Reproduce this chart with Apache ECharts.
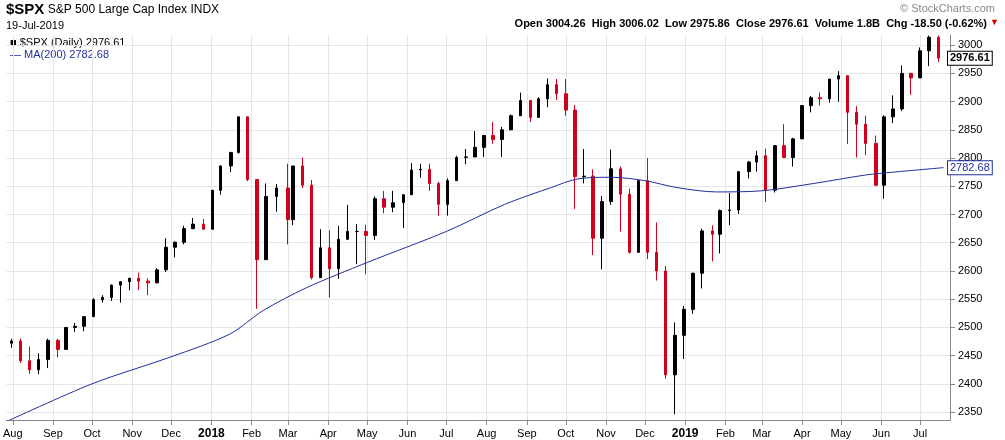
<!DOCTYPE html><html><head><meta charset="utf-8">
<script src="https://cdn.jsdelivr.net/npm/echarts@6/dist/echarts.min.js"></script>
<style>body{margin:0;background:#fff}#c{width:1005px;height:440px}</style></head><body><div id="c"></div>
<script>
// weekly candles: date, open, close, low, high
const weeks=[
['2017-07-31',2472,2476,2464,2480],['2017-08-07',2476,2441,2437,2480],['2017-08-14',2441,2425,2418,2466],['2017-08-21',2425,2443,2417,2454],
['2017-08-28',2443,2477,2428,2480],['2017-09-05',2477,2461,2447,2480],['2017-09-11',2461,2500,2463,2500],['2017-09-18',2500,2502,2492,2508],
['2017-09-25',2502,2519,2493,2520],['2017-10-02',2519,2549,2520,2552],['2017-10-09',2549,2553,2544,2557],['2017-10-16',2553,2575,2547,2576],
['2017-10-23',2575,2581,2544,2582],['2017-10-30',2581,2587,2566,2588],['2017-11-06',2587,2582,2566,2597],['2017-11-13',2582,2579,2557,2587],
['2017-11-20',2579,2602,2578,2605],['2017-11-27',2602,2642,2598,2658],['2017-12-04',2642,2651,2624,2652],['2017-12-11',2651,2675,2647,2680],
['2017-12-18',2675,2683,2674,2694],['2017-12-26',2683,2674,2673,2692],['2018-01-02',2674,2743,2683,2743],['2018-01-08',2743,2786,2735,2787],
['2018-01-16',2786,2810,2775,2810],['2018-01-22',2810,2873,2808,2873],['2018-01-29',2873,2762,2759,2870],['2018-02-05',2762,2620,2533,2763],
['2018-02-12',2620,2732,2622,2755],['2018-02-20',2732,2747,2705,2754],['2018-03-01',2747,2691,2647,2790],['2018-03-05',2691,2786,2681,2786],
['2018-03-12',2786,2752,2747,2801],['2018-03-19',2752,2588,2585,2761],['2018-03-26',2588,2641,2594,2674],['2018-04-02',2641,2604,2553,2672],
['2018-04-09',2604,2656,2586,2680],['2018-04-16',2656,2670,2660,2717],['2018-04-23',2670,2670,2612,2683],['2018-04-30',2670,2663,2594,2682],
['2018-05-07',2663,2728,2655,2732],['2018-05-14',2728,2713,2702,2742],['2018-05-21',2713,2721,2704,2742],['2018-05-29',2721,2735,2676,2736],
['2018-06-04',2735,2779,2741,2791],['2018-06-11',2779,2780,2765,2790],['2018-06-18',2780,2755,2742,2790],['2018-06-25',2755,2718,2698,2758],
['2018-07-02',2718,2760,2698,2764],['2018-07-09',2760,2801,2770,2804],['2018-07-16',2801,2802,2789,2816],['2018-07-23',2802,2819,2803,2848],
['2018-07-30',2819,2840,2802,2841],['2018-08-06',2840,2833,2825,2864],['2018-08-13',2833,2850,2802,2855],['2018-08-20',2850,2875,2853,2877],
['2018-08-27',2875,2902,2877,2916],['2018-09-04',2902,2872,2864,2903],['2018-09-10',2872,2905,2872,2908],['2018-09-17',2905,2930,2890,2941],
['2018-09-24',2930,2914,2903,2940],['2018-10-01',2914,2885,2875,2940],['2018-10-08',2885,2767,2710,2894],['2018-10-15',2767,2768,2755,2816],
['2018-10-22',2768,2658,2628,2780],['2018-10-29',2658,2723,2603,2733],['2018-11-05',2723,2781,2717,2815],['2018-11-12',2781,2736,2670,2785],
['2018-11-19',2736,2633,2631,2746],['2018-11-26',2633,2760,2636,2760],['2018-12-03',2760,2633,2621,2800],['2018-12-10',2633,2600,2583,2686],
['2018-12-17',2600,2416,2409,2609],['2018-12-24',2416,2486,2346,2509],['2018-12-31',2486,2532,2444,2538],['2019-01-07',2532,2596,2524,2597],
['2019-01-14',2596,2671,2569,2675],['2019-01-22',2671,2665,2617,2681],['2019-01-28',2665,2707,2631,2709],['2019-02-04',2707,2708,2681,2738],
['2019-02-11',2708,2776,2701,2776],['2019-02-19',2776,2793,2764,2795],['2019-02-25',2793,2804,2776,2813],['2019-03-04',2804,2743,2722,2817],
['2019-03-11',2743,2822,2739,2823],['2019-03-18',2822,2801,2800,2860],['2019-03-25',2801,2834,2785,2836],['2019-04-01',2834,2893,2848,2893],
['2019-04-08',2893,2907,2881,2910],['2019-04-15',2907,2905,2893,2916],['2019-04-22',2905,2940,2898,2940],['2019-04-29',2940,2946,2900,2954],
['2019-05-06',2946,2881,2825,2932],['2019-05-13',2881,2860,2801,2892],['2019-05-20',2860,2826,2805,2875],['2019-05-28',2826,2752,2750,2840],
['2019-06-03',2752,2873,2728,2876],['2019-06-10',2873,2887,2862,2911],['2019-06-17',2887,2950,2883,2964],['2019-06-24',2950,2942,2912,2951],
['2019-07-01',2942,2990,2952,2996],['2019-07-08',2990,3014,2963,3017],['2019-07-15',3014,2977,2970,3017]
];
const maDates=['2017-07-27','2017-10-01','2017-12-01','2018-01-15','2018-02-10','2018-03-15','2018-05-01','2018-07-01','2018-08-15','2018-09-20','2018-10-10','2018-11-05','2018-12-01','2018-12-25','2019-01-25','2019-03-01','2019-04-10','2019-05-20','2019-06-10','2019-07-19'];
const maVals=[2333,2400,2448,2488,2530,2570,2615,2670,2718,2748,2763,2766,2760,2748,2740,2742,2755,2770,2775,2783];
const yTicks=[2350,2400,2450,2500,2550,2600,2650,2700,2750,2800,2850,2900,2950,3000];
const monthTicks=['2017-08-01','2017-09-01','2017-10-01','2017-11-01','2017-12-01','2018-01-01','2018-02-01','2018-03-01','2018-04-01','2018-05-01','2018-06-01','2018-07-01','2018-08-01','2018-09-01','2018-10-01','2018-11-01','2018-12-01','2019-01-01','2019-02-01','2019-03-01','2019-04-01','2019-05-01','2019-06-01','2019-07-01'];
const mn=['Jan','Feb','Mar','Apr','May','Jun','Jul','Aug','Sep','Oct','Nov','Dec'];
const T=d=>Date.parse(d+'T00:00:00Z');
const mt=monthTicks.map(T);
const c=echarts.init(document.getElementById('c'));
const F='Arial, Liberation Sans, sans-serif';
c.setOption({animation:false,textStyle:{fontFamily:F},
grid:{left:5,right:55,top:35,bottom:20},
xAxis:{type:'value',min:T('2017-07-27'),max:T('2019-07-24'),
 axisLine:{lineStyle:{color:'#888'}},axisTick:{show:true,customValues:mt,lineStyle:{color:'#888'}},
 splitLine:{show:true,customValues:mt,lineStyle:{color:'#e6e6e6'}},
 axisLabel:{customValues:mt,fontSize:11,color:'#000',
  formatter:v=>{const d=new Date(v);return d.getUTCMonth()===0?'{b|'+d.getUTCFullYear()+'}':mn[d.getUTCMonth()];},rich:{b:{fontWeight:'bold',fontSize:12}}}},
yAxis:{type:'value',position:'right',min:2336,max:3018,
 axisLine:{show:true,lineStyle:{color:'#888'}},axisTick:{show:true,customValues:yTicks},
 splitLine:{show:true,customValues:yTicks,lineStyle:{color:'#e6e6e6'}},
 axisLabel:{customValues:yTicks,fontSize:11,color:'#000',formatter:v=>String(v)}},
series:[{type:'candlestick',data:weeks.map(w=>[T(w[0]),w[1],w[2],w[3],w[4]]),encode:{x:0,y:[1,2,3,4]},barWidth:3,
 itemStyle:{color:'#000',borderColor:'#000',color0:'#d0021b',borderColor0:'#d0021b',borderWidth:1},
 markLine:{symbol:'none',silent:true,data:[{yAxis:2976.61}],lineStyle:{width:0,color:'#000'},
  label:{show:true,position:'end',distance:-2,formatter:'2976.61',fontWeight:'bold',fontSize:11,color:'#000',backgroundColor:'#fff',borderColor:'#000',borderWidth:1,padding:[1,2]}}},
 {type:'line',data:maDates.map((d,i)=>[T(d),maVals[i]]),smooth:0.3,showSymbol:false,lineStyle:{color:'#1f2f9f',width:1},
 markLine:{symbol:'none',silent:true,data:[{yAxis:2782.68}],lineStyle:{width:0,color:'#1f2f9f'},
  label:{show:true,position:'end',distance:-2,formatter:'2782.68',fontSize:11,color:'#1f2f9f',backgroundColor:'#fff',borderColor:'#1f2f9f',borderWidth:1,padding:[1,2]}}}],
graphic:[
 {type:'text',left:6,top:2,style:{text:'{a|$SPX} S&P 500 Large Cap Index INDX',fontSize:12,fontFamily:F,rich:{a:{fontSize:15,fontWeight:'bold'}}}},
 {type:'text',left:6,top:20,style:{text:'19-Jul-2019',fontSize:11,fontFamily:F}},
 {type:'text',right:18,top:18,style:{text:'Open 3004.26  High 3006.02  Low 2975.86  Close 2976.61  Volume 1.8B  Chg -18.50 (-0.62%)',fontSize:11,fontWeight:'bold',fontFamily:F}},
 {type:'text',right:6,top:18,style:{text:'▼',fontSize:9,fill:'#c00'}},
 {type:'text',right:10,top:3,style:{text:'© StockCharts.com',fontSize:11,fill:'#888',fontFamily:F}},
 {type:'rect',left:8,top:36,shape:{width:135,height:24},style:{fill:'#fff'}},
 {type:'text',left:10,top:37,style:{text:'■ $SPX (Daily) 2976.61',fontSize:11,fontFamily:F}},
 {type:'text',left:10,top:49,style:{text:'— MA(200) 2782.68',fontSize:11,fill:'#1f2f9f',fontFamily:F}}
]});
</script></body></html>
